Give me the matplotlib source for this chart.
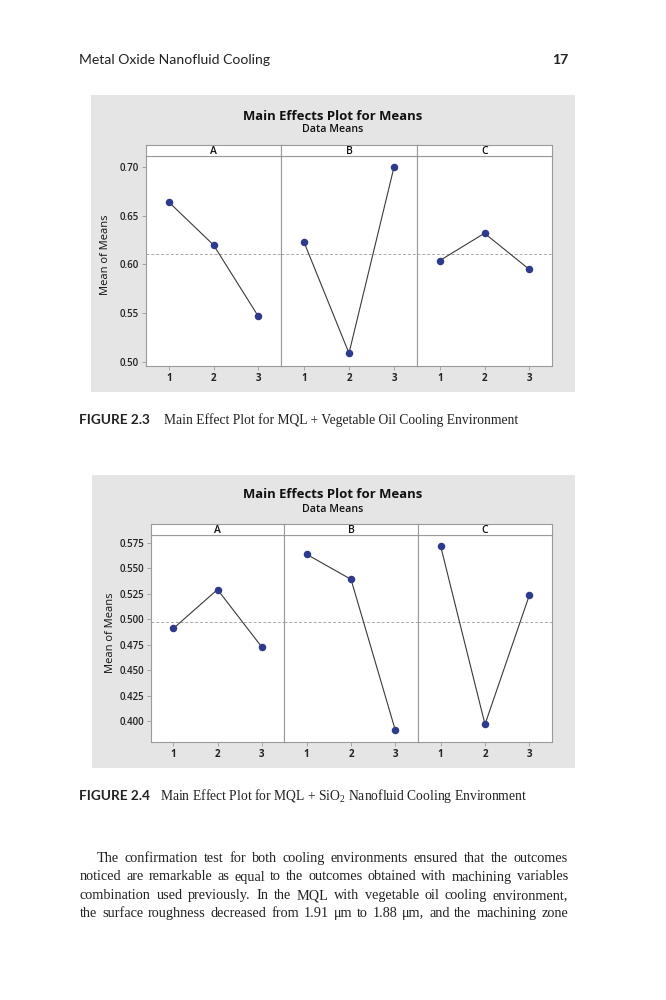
import numpy as np
import matplotlib
matplotlib.use("Agg")
import matplotlib.pyplot as plt
from matplotlib.patches import Rectangle

W, H = 666, 1000

factors = ["A", "B", "C"]
levels = [1, 2, 3]

# Figure 2.3 : MQL + vegetable oil
veg_A = [0.664, 0.620, 0.547]
veg_B = [0.623, 0.509, 0.700]
veg_C = [0.604, 0.632, 0.595]
veg_yticks = [0.50, 0.55, 0.60, 0.65, 0.70]

# Figure 2.4 : MQL + SiO2 nanofluid
sio_A = [0.491, 0.529, 0.473]
sio_B = [0.5635, 0.539, 0.391]
sio_C = [0.5715, 0.397, 0.5235]
sio_yticks = [0.400, 0.425, 0.450, 0.475, 0.500, 0.525, 0.550, 0.575]

body_lines = [
    "The confirmation test for both cooling environments ensured that the outcomes",
    "noticed are remarkable as equal to the outcomes obtained with machining variables",
    "combination used previously. In the MQL with vegetable oil cooling environment,",
    "the surface roughness decreased from 1.91 \u03bcm to 1.88 \u03bcm, and the machining zone",
]

plt.rcParams["mathtext.fontset"] = "custom"
plt.rcParams["mathtext.rm"] = "Liberation Serif"
plt.rcParams["mathtext.it"] = "Liberation Serif:italic"

SANS = "Open Sans"
SERIF = "Liberation Serif"
HEAD = "Lato"
GRID = "#9a9a9a"
MARK = "#2e3a8c"
INK = "#222222"

fig = plt.figure(figsize=(W / 100, H / 100), dpi=100)
fig.patch.set_facecolor("white")
renderer = fig.canvas.get_renderer()


def rect(x0, y0, x1, y1):
    # pixel box -> figure coords
    return [x0 / W, 1 - y1 / H, (x1 - x0) / W, (y1 - y0) / H]


def fit_text(x, y, s, width, ha="left", va="baseline", **kw):
    t = fig.text(x / W, 1 - y / H, s, ha=ha, va=va, fontsize=10, **kw)
    w = t.get_window_extent(renderer).width
    t.set_fontsize(10 * width / w)
    return t


def justify(line, y, x0, x1, size):
    words = line.split()
    texts = [fig.text(0, 1 - y / H, w, fontsize=size, family=SERIF,
                      va="baseline", color=INK) for w in words]
    widths = [t.get_window_extent(renderer).width for t in texts]
    gap = (x1 - x0 - sum(widths)) / (len(words) - 1)
    x = x0
    for t, w in zip(texts, widths):
        t.set_x(x / W)
        x += w + gap


def main_effects(data, yticks, fmt, ylim, box, xs, strip_top, strip_bot, bottom,
                 title_y, sub_y):
    gx0, gy0, gx1, gy1 = box
    fig.patches.append(Rectangle((gx0 / W, 1 - gy1 / H), (gx1 - gx0) / W,
                                 (gy1 - gy0) / H, transform=fig.transFigure,
                                 facecolor="#e5e5e5", edgecolor="none", zorder=-5))
    fit_text((gx0 + gx1) / 2 - 0.5, title_y, "Main Effects Plot for Means", 180,
             ha="center", va="center", family=SANS, weight="bold", color="#111111")
    fit_text((gx0 + gx1) / 2 - 0.5, sub_y, "Data Means", 61,
             ha="center", va="center", family=SANS, weight="semibold", color="#111111")

    grand = np.mean(np.concatenate(data))
    for i, (name, vals) in enumerate(zip(factors, data)):
        ax = fig.add_axes(rect(xs[i], strip_bot, xs[i + 1], bottom))
        ax.axhline(grand, color="#a8a8a8", lw=0.7, ls=(0, (3, 2)), zorder=1)
        ax.plot(levels, vals, color="#3a3a3a", lw=0.8, zorder=2)
        ax.plot(levels, vals, "o", color=MARK, ms=4.4, mec=MARK, zorder=3)
        ax.set_xlim(0.49, 3.51)
        ax.set_ylim(*ylim)
        ax.set_xticks(levels)
        ax.set_xticklabels([str(l) for l in levels], family=SANS,
                           weight="bold", fontsize=7, color=INK)
        if i == 0:
            ax.set_yticks(yticks)
            ax.set_yticklabels([fmt.format(v) for v in yticks], family=SANS,
                               weight="semibold", fontsize=7, color=INK)
            ax.set_ylabel("Mean of Means", family=SANS, fontsize=8,
                          color="#111111")
            ax.yaxis.set_label_coords(-0.26, 0.53)
        else:
            ax.set_yticks([])
        ax.tick_params(direction="out", length=3, width=0.6, color=GRID, pad=2)
        for s in ax.spines.values():
            s.set_color(GRID)
            s.set_linewidth(0.8)

        st = fig.add_axes(rect(xs[i], strip_top, xs[i + 1], strip_bot))
        st.set_xticks([])
        st.set_yticks([])
        for s in st.spines.values():
            s.set_color(GRID)
            s.set_linewidth(0.8)
        st.text(0.5, 0.45, name, ha="center", va="center", transform=st.transAxes,
                family=SANS, weight="semibold", fontsize=7.5, color="#111111")


main_effects([veg_A, veg_B, veg_C], veg_yticks, "{:.2f}", (0.4959, 0.7112),
             (91, 95, 575, 392), [146, 281, 417, 552], 145, 156, 366, 116, 130)
main_effects([sio_A, sio_B, sio_C], sio_yticks, "{:.3f}", (0.3797, 0.5824),
             (92, 475, 575, 768), [151, 284, 418, 552], 524, 535, 742, 494, 509)

# running head
head = fit_text(79, 64, "Metal Oxide Nanofluid Cooling", 191, family=HEAD, color=INK)
fig.text(568 / W, 1 - 64 / H, "17", ha="right", va="baseline", family=HEAD,
         weight="bold", fontsize=head.get_fontsize(), color=INK)

# captions
f3 = fit_text(79, 424, "FIGURE 2.3", 71, family=HEAD, weight="bold", color=INK)
c3 = fit_text(164, 424, "Main Effect Plot for MQL + Vegetable Oil Cooling Environment",
              354, family=SERIF, color=INK)
fig.text(79 / W, 1 - 800 / H, "FIGURE 2.4", va="baseline", family=HEAD, weight="bold",
         fontsize=f3.get_fontsize(), color=INK)
fig.text(160 / W, 1 - 800 / H,
         r"Main Effect Plot for MQL + SiO$_\mathrm{2}$ Nanofluid Cooling Environment",
         va="baseline", family=SERIF, fontsize=c3.get_fontsize(), color=INK)

# body text
body_y = [862, 880.5, 899, 917]
for k, (line, y) in enumerate(zip(body_lines, body_y)):
    justify(line, y, 97 if k == 0 else 80, 568, 10.3)

fig.savefig("out.png", dpi=100)
